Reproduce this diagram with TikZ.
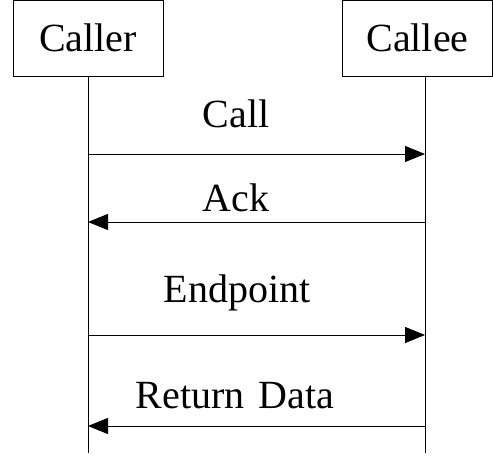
\documentclass[tikz,border=0pt]{standalone}
\usepackage{fontspec}
\setmainfont{Liberation Serif}
\usetikzlibrary{arrows.meta}
\begin{document}
\begin{tikzpicture}[x=1pt,y=-1pt,
  every node/.style={font=\fontsize{40}{44}\selectfont, inner sep=0pt},
  actor/.style={draw, line width=0.9pt, minimum width=150pt, minimum height=76pt},
  lifeline/.style={line width=0.9pt},
  msg/.style={line width=0.9pt, -{Triangle[length=20pt,width=16pt]}}]
  \useasboundingbox (0,0) rectangle (493,457);
  % participants
  \node[actor] (caller) at (88,38) {Caller};
  \node[actor] (callee) at (417.5,38) {Callee};
  % lifelines
  \coordinate (callerEnd) at (88,453);
  \coordinate (calleeEnd) at (425,453);
  \coordinate (calleeTop) at (425,76);
  \draw[lifeline] (caller.south) -- (callerEnd);
  \draw[lifeline] (calleeTop) -- (calleeEnd);
  % message anchors on the lifelines
  \coordinate (a1) at (88,154);  \coordinate (b1) at (425,154);
  \coordinate (a2) at (88,222);  \coordinate (b2) at (425,222);
  \coordinate (a3) at (88,335);  \coordinate (b3) at (425,335);
  \coordinate (a4) at (88,426);  \coordinate (b4) at (425,426);
  % messages
  \draw[msg] (a1) -- (b1);
  \draw[msg] (b2) -- (a2);
  \draw[msg] (a3) -- (b3);
  \draw[msg] (b4) -- (a4);
  % labels
  \node[anchor=base] (lcall) at (236,128) {Call};
  \node[anchor=base] (lack) at (236,212) {Ack};
  \node[anchor=base] (lend) at (237,303) {Endpoint};
  \node[anchor=base] (lret) at (235,408) {Return\hspace{0.35em}Data};
\end{tikzpicture}
\end{document}
